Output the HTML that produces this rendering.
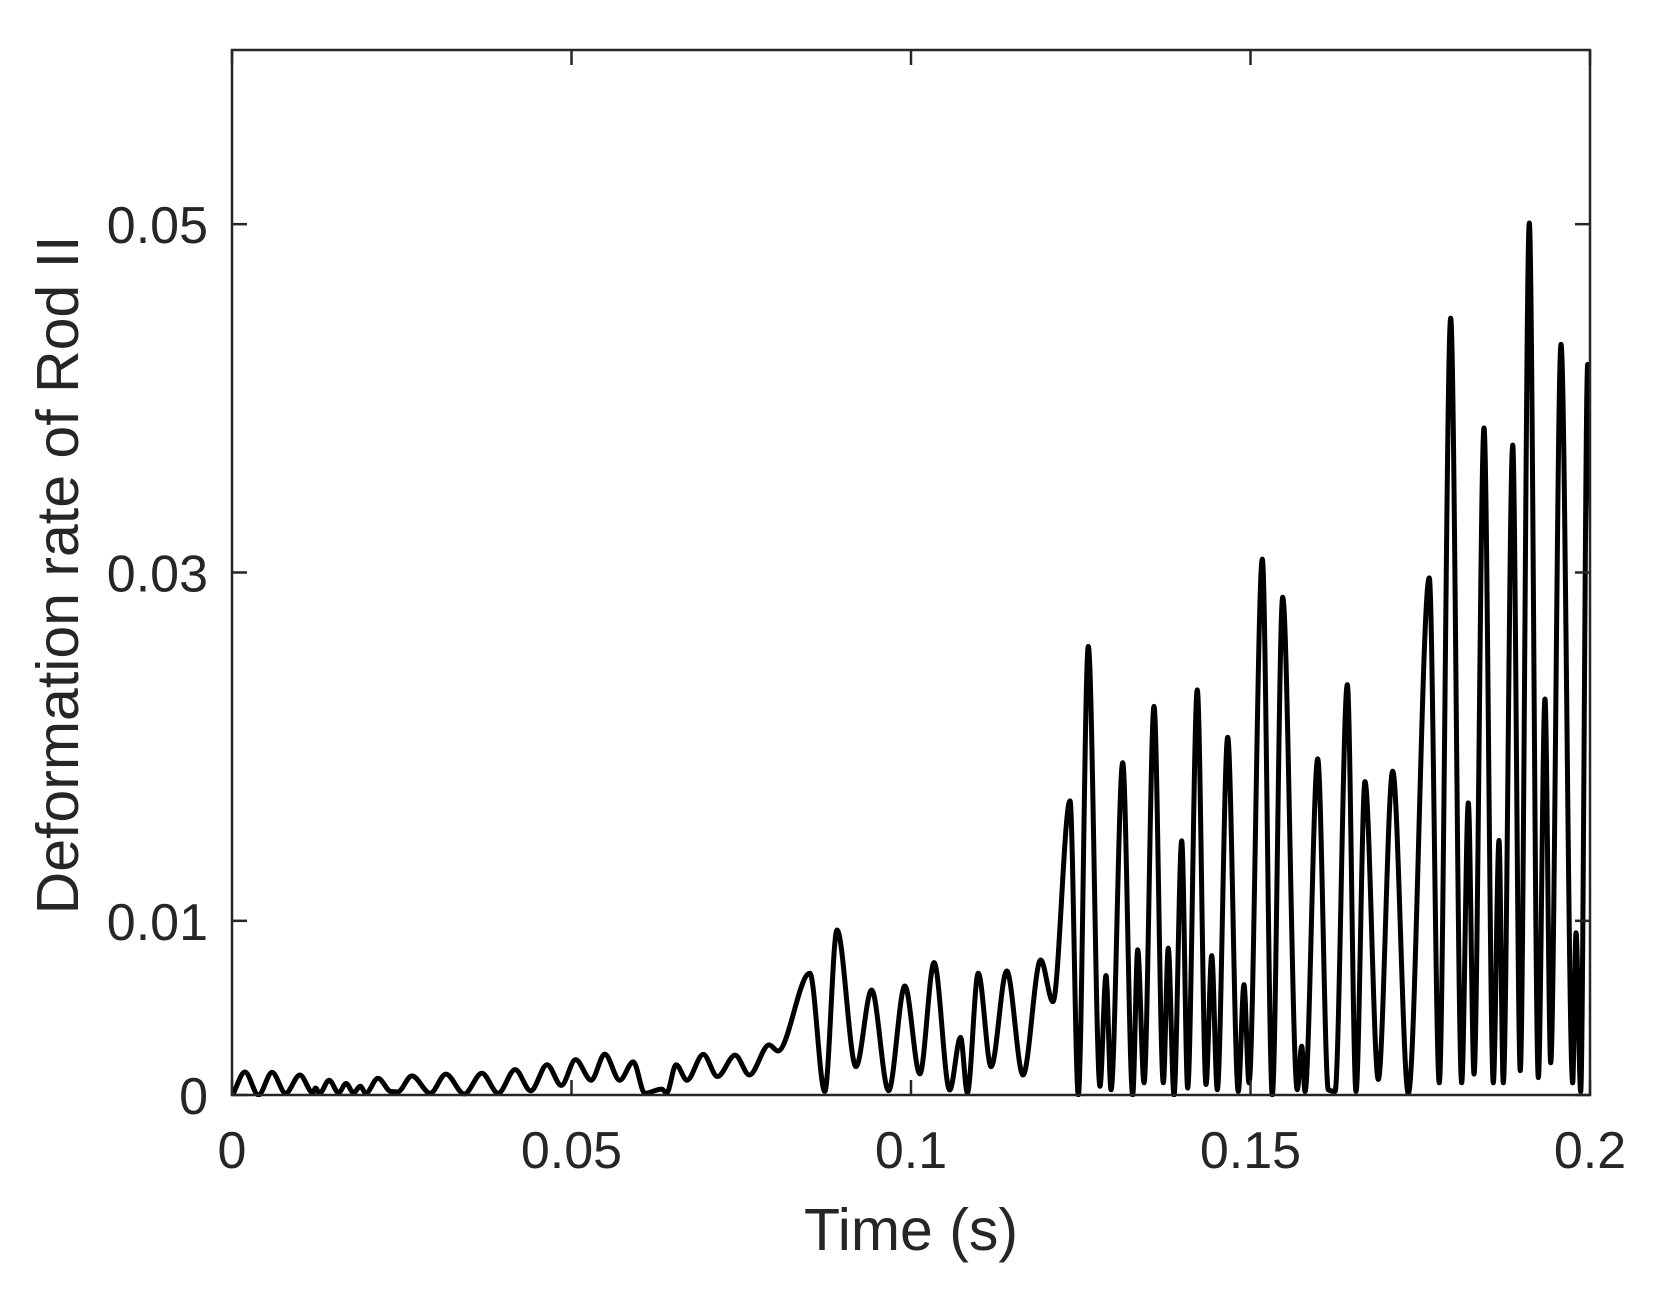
<!DOCTYPE html>
<html><head><meta charset="utf-8"><style>
html,body{margin:0;padding:0;background:#fff;}
svg{display:block;}
text{font-family:"Liberation Sans",Arial,sans-serif;fill:#262626;}
</style></head><body>
<svg id="chart" width="1656" height="1295" viewBox="0 0 1656 1295" xmlns="http://www.w3.org/2000/svg">
<rect width="1656" height="1295" fill="#fff"/>
<g id="marks"></g>
<g id="axes"></g>
<text transform="translate(78,575) rotate(-90)" text-anchor="middle" font-size="59">Deformation rate of Rod II</text>
<text x="911" y="1250" text-anchor="middle" font-size="59">Time (s)</text>
</svg>
<script>
const xTicks = [0, 0.05, 0.1, 0.15, 0.2];
const xTickLabels = ["0", "0.05", "0.1", "0.15", "0.2"];
const yTicks = [0, 0.01, 0.03, 0.05];
const yTickLabels = ["0", "0.01", "0.03", "0.05"];
const timeValues = [0.0002,0.0019,0.0039,0.0059,0.0079,0.0100,0.0119,0.0123,0.0129,0.0143,0.0157,0.0168,0.0179,0.0189,0.0197,0.0215,0.0234,0.0244,0.0265,0.0292,0.0315,0.0342,0.0368,0.0392,0.0417,0.0440,0.0464,0.0485,0.0506,0.0529,0.0549,0.0571,0.0591,0.0608,0.0633,0.0640,0.0654,0.0670,0.0694,0.0715,0.0741,0.0762,0.0791,0.0804,
0.0851,0.0873,0.0891,0.0919,0.0942,0.0967,0.0991,0.1013,0.1034,0.1057,0.1073,0.1083,0.1099,0.1118,0.1141,0.1165,0.1191,0.1209,
0.12342,0.12464,0.12611,0.12783,0.12872,0.12946,0.13118,0.13265,0.13339,0.13432,0.13579,0.13716,0.13789,0.13873,0.13987,0.14075,0.14216,0.14345,0.14429,0.14511,0.14664,0.14820,0.14904,0.14978,0.15174,0.15321,0.15474,0.15689,0.15754,0.15803,0.15990,0.16146,
0.16245,0.16426,0.16554,0.16686,0.16882,0.17094,0.17324,0.17633,0.17780,0.17948,0.18110,0.18208,0.18292,0.18439,0.18576,0.18660,0.18723,0.18862,0.18973,0.19106,0.19239,0.19337,0.19421,0.19573,0.19745,0.19794,0.19863,0.19966,0.2003];
const rateValues = [0.0001,0.00132,0.0000,0.00130,0.0001,0.00115,0.00013,0.0004,0.0001,0.00085,0.00013,0.00066,0.00013,0.0005,0.0001,0.00096,0.0002,0.00018,0.0011,0.0001,0.0012,0.00006,0.00125,0.0001,0.00146,0.00024,0.00174,0.00055,0.00203,0.00085,0.00235,0.00085,0.0019,0.0001,0.00034,0.0001,0.00174,0.00085,0.00233,0.00106,0.00229,0.00115,0.00288,0.00253,
0.00699,0.0002,0.00947,0.00163,0.00603,0.00025,0.00626,0.00121,0.0076,0.00029,0.00331,0.00013,0.00699,0.00163,0.00712,0.00115,0.00775,0.00536,
0.01689,0.0000,0.02576,0.0005,0.00686,0.0003,0.01908,0.0000,0.00833,0.0007,0.02231,0.0007,0.00843,0.0000,0.01459,0.0004,0.02326,0.0006,0.0080,0.0003,0.02054,0.0002,0.00634,0.0007,0.03077,0.0000,0.02858,0.0003,0.0028,0.0002,0.0193,0.0003,
0.0002,0.02356,0.0002,0.01799,0.0009,0.01859,0.0001,0.02969,0.0007,0.0446,0.0007,0.01677,0.0012,0.0383,0.0007,0.01461,0.0007,0.03731,0.0014,0.05007,0.0010,0.02274,0.00185,0.0431,0.0007,0.00931,0.0002,0.04195,0.0300];

const L=232,R=1590,T=50,B=1095;
const xS=t=>L+(t-0)/(0.2-0)*(R-L);
const yS=v=>B-(v-0)/(0.06-0)*(B-T);
const NS="http://www.w3.org/2000/svg";
const marks=document.getElementById('marks');
const axes=document.getElementById('axes');

const defs=document.createElementNS(NS,'defs');
defs.innerHTML='<clipPath id="pc"><rect x="'+L+'" y="'+T+'" width="'+(R-L)+'" height="'+(B-T+2)+'"/></clipPath>';
document.getElementById('chart').insertBefore(defs,marks);

const n=timeValues.length, xs=timeValues.map(xS), ys=rateValues.map(yS);
const d=[],m=[];
for(let i=0;i<n-1;i++) d.push((ys[i+1]-ys[i])/(xs[i+1]-xs[i]));
m[0]=d[0]; m[n-1]=d[n-2];
for(let i=1;i<n-1;i++){ if(d[i-1]*d[i]<=0) m[i]=0; else m[i]=2/(1/d[i-1]+1/d[i]); }
let p='M'+xs[0].toFixed(1)+','+ys[0].toFixed(1);
for(let i=0;i<n-1;i++){
  const h=xs[i+1]-xs[i];
  p+='C'+(xs[i]+h/3).toFixed(2)+','+(ys[i]+m[i]*h/3).toFixed(2)+' '+(xs[i+1]-h/3).toFixed(2)+','+(ys[i+1]-m[i+1]*h/3).toFixed(2)+' '+xs[i+1].toFixed(2)+','+ys[i+1].toFixed(2);
}
const line=document.createElementNS(NS,'path');


line.setAttribute('d',p);
line.setAttribute('fill','none');
line.setAttribute('stroke','#000');
line.setAttribute('stroke-width','5');
line.setAttribute('stroke-linejoin','round');
line.setAttribute('clip-path','url(#pc)');
marks.appendChild(line);

const box=document.createElementNS(NS,'rect');


box.setAttribute('x',L);box.setAttribute('y',T);box.setAttribute('width',R-L);box.setAttribute('height',B-T);
box.setAttribute('fill','none');box.setAttribute('stroke','#262626');box.setAttribute('stroke-width','2.5');
axes.appendChild(box);

function ln(x1,y1,x2,y2,name){
  const l=document.createElementNS(NS,'line');
  
  
  l.setAttribute('x1',x1);l.setAttribute('y1',y1);l.setAttribute('x2',x2);l.setAttribute('y2',y2);
  l.setAttribute('stroke','#262626');l.setAttribute('stroke-width','2.5');
  axes.appendChild(l);
}
function tx(x,y,s,anchor,name){
  const t=document.createElementNS(NS,'text');
  
  
  t.setAttribute('x',x);t.setAttribute('y',y);t.setAttribute('text-anchor',anchor);t.setAttribute('font-size','52');
  t.textContent=s;
  axes.appendChild(t);
}
xTicks.forEach((v,i)=>{
  const x=xS(v);
  ln(x,B,x,B-15,'x-tick');
  ln(x,T,x,T+15,'x-tick-top');
  tx(x,1168,xTickLabels[i],'middle','x-tick-label');
});
yTicks.forEach((v,i)=>{
  const y=yS(v);
  ln(L,y,L+15,y,'y-tick');
  ln(R,y,R-15,y,'y-tick-right');
  tx(208,y+19,yTickLabels[i],'end','y-tick-label');
});
</script>
</body></html>
